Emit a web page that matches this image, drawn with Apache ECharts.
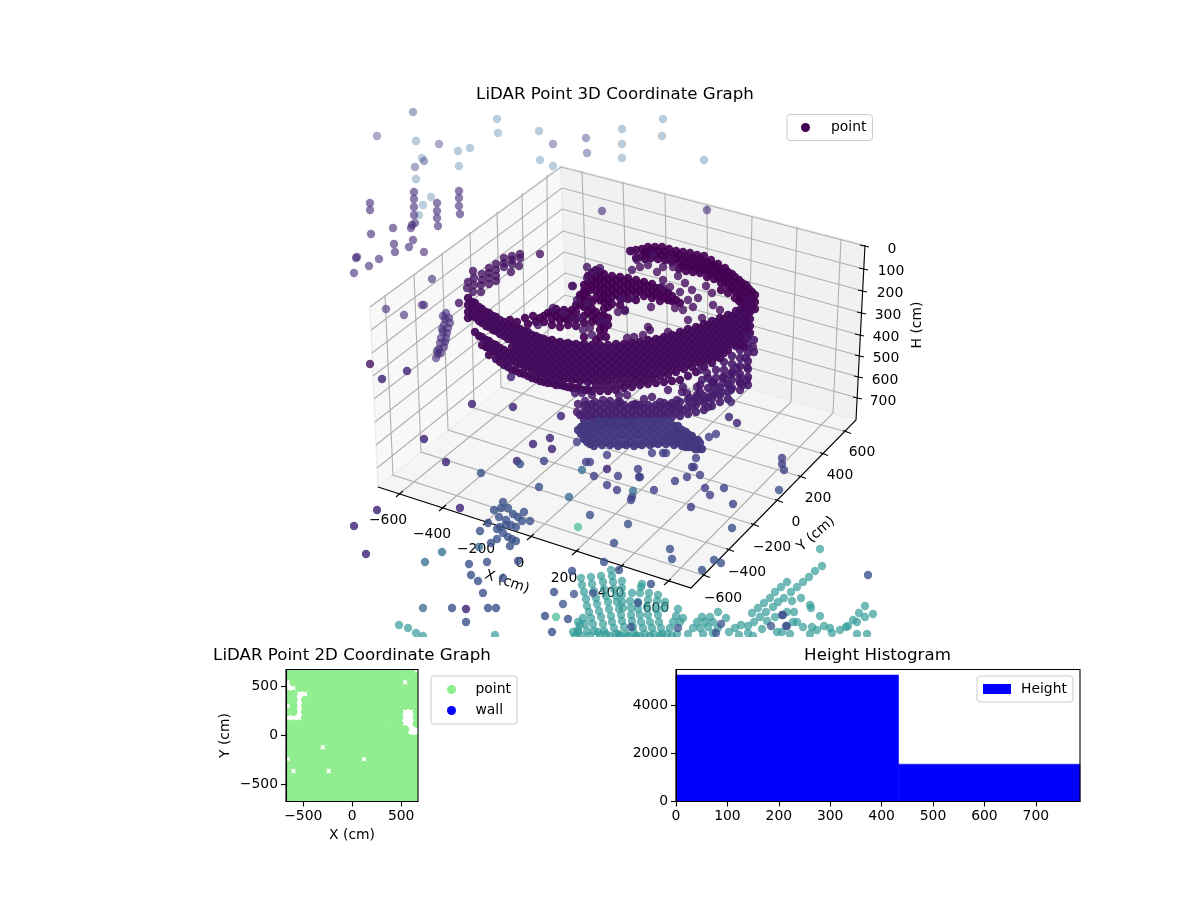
<!DOCTYPE html>
<html><head><meta charset="utf-8">
<script src="https://cdn.jsdelivr.net/npm/echarts@6/dist/echarts.min.js"></script>
<style>html,body{margin:0;background:#fff}#c{width:1200px;height:900px}</style></head>
<body><div id="c"></div>
<script>
const faintBlue=[[497,119],[498,133],[416,141],[458,151],[470,148],[539,131],[622,129],[622,144],[622,158],[540,160],[422,158],[459,166],[416,179],[431,197],[423,205],[419,215],[663,119],[662,136],[704,160],[553,166]];
const faintLavender=[[413,112],[377,136],[439,144],[553,144],[586,138],[587,153],[424,161],[415,167]];
const upperPurple=[[414,192],[414,199],[414,207],[414,215],[415,223],[412,225],[411,228],[459,191],[459,198],[459,206],[460,214],[437,203],[437,211],[437,218],[438,226],[370,203],[370,210],[393,228],[371,234],[413,240],[394,244],[395,252],[409,247],[424,252],[357,257],[356,258],[379,259],[369,266],[354,273],[432,279],[386,309],[404,315],[422,305],[424,305],[602,211],[707,210],
[446,313],[449,318],[445,319],[450,323],[444,325],[448,328],[443,332],[447,333],[441,338],[446,338],[440,343],[445,342],[439,349],[444,347],[438,354],[441,353],[436,358],[437,351],[443,316],[442,329]];
const ringFront=[
[468,298,305,312,318],[475,303,310,317,332],[482,309,316,323,337,345],[489,313,320,327,341,348,355],[496,317,324,331,345,352,359],
[504,322,329,336,350,357,365],[512,326,333,340,347,354,361,370],[520,329,336,343,350,357,364,373],[528,332,339,346,353,360,367,376],[536,336,343,350,357,364,371,379],
[544,339,346,353,360,367,374,382],[552,340,347,354,361,368,375,383],[560,342,349,356,363,370,377,385],[568,343,350,357,364,371,378,387],[576,344,351,358,365,372,379,388],
[584,344,351,358,365,372,379,390],[592,345,352,359,366,373,380,391],[600,345,352,359,366,373,380,391],[608,345,352,359,366,373,380,391],[616,344,351,358,365,372,379,390],
[624,344,351,358,365,372,379,388],[632,343,350,357,364,371,378,387],[640,342,349,356,363,370,377,385],[648,340,347,354,361,368,375,384],[656,339,346,353,360,367,374,383],
[664,337,344,351,358,365,372,382],[672,335,342,349,356,363,370,381],[680,332,339,346,353,360,367,380],[688,329,336,343,350,357,364,376],[696,327,334,341,348,355,362,372],
[704,324,331,338,345,352,359,367],[712,321,328,335,342,349,356,363],[720,318,325,332,339,346,353,358],[728,315,322,329,336,343,350],[736,311,318,325,332,339,346],[744,305,312,319,326,333,340,347],[750,298,305,312,319,326,333]];
const ringFrontFill=[
[472,302,309,316],[479,307,314,321,336],[486,312,319,326,340,347],[493,316,323,330,344,351],[500,320,327,334,348,355,362],
[508,325,332,339,353,360,367],[516,328,335,342,349,356,363,371],[524,331,338,345,352,359,366,374],[532,335,342,349,356,363,370,378],[540,338,345,352,359,366,373,381],
[548,341,348,355,362,369,376,383],[556,343,350,357,364,371,378,385],[564,344,351,358,365,372,379,386],[572,345,352,359,366,373,380,388],[580,346,353,360,367,374,381,389],
[588,347,354,361,368,375,382,390],[596,348,355,362,369,376,385],[604,348,355,362,369,376,385],[612,348,355,362,369,376,385],[620,347,354,361,368,375,384],
[628,346,353,360,367,374,383],[636,345,352,359,366,373,381],[644,344,351,358,365,372,380],[652,342,349,356,363,370,378],[660,340,347,354,361,368,376],
[668,339,346,353,360,367,375],[676,336,343,350,357,364,372],[684,333,340,347,354,361,369],[692,331,338,345,352,359,367],[700,328,335,342,349,356,363],
[708,325,332,339,346,353,360],[716,322,329,336,343,350,357],[724,319,326,333,340,347,353],[732,316,323,330,337,344],[740,310,317,324,331,338,345],[747,302,309,316,323,330,337]];
const ringBackArc=[
[588,276,283],[596,270,277,284,291],[604,274,281,288,295,302,309],[612,276,283,290],[620,277,284,291],[628,278,285,292],[636,280,287],[644,282,289],[652,284,291],[660,288,295],[668,293],
[580,298,305],[588,298,305,312],[596,312,319],[604,316,323,330],[572,310,317],[564,310,318],[556,309,316],[548,313],[540,318],[525,318],[533,316],[510,320],[517,322],
[631,251],[642,249,256],[648,247,254],[655,247,254],[662,247,255],[669,249,257],[676,251,258],[683,252,259,266],[690,253,260,267],[697,255,262,269],[704,256,263,270],[711,260,267,274],[718,264,271,278],[725,268,275,282],[732,274,281,288],[739,280,287,294,301],[746,285,292,299,306],[752,292,299,306]];
const ringBackFill=[[592,273,280,287],[600,272,279,286,293,300],[608,279,286,293,300,307],[616,280,287,294],[624,281,288,295],[632,283,290],[640,284,291],[648,286,293],[656,288,295],[664,291,298],[672,296,301],[584,300,307],[592,302,309,316],[600,316,323,330],[608,318,325],[576,305,312],[568,313,320],[560,313,320],[552,312,319],[544,316],[580,295],[586,292],
[584,285,291],[590,290],[596,298],[612,297,304],[620,298,305],[628,299],[636,294,300],[644,296],[652,298],[660,301],[668,300],[676,300],[680,303],
[576,319,326],[584,316,323,337],[592,322],[568,325],[560,327],[552,325],[544,322],[536,322],[528,324],[600,337],[606,337],[596,340],
[636,250,258],[645,252,259],[651,250,258],[658,251,259],[665,252,260],[672,254,262],[679,255,262,269],[686,257,264,271],[693,258,265,272],[700,259,266,273],[707,263,270,277],[714,265,272,279],[721,269,276,283,290],[728,272,279,286,293],[735,277,284,291,298],[742,283,290,297,304],[749,289,296,303,310],[755,295,302,309]];
const ringUpperLeft=[[520,254],[520,258],[519,266],[512,256],[512,260],[512,264],[511,272],[504,258],[504,263],[504,267],[496,264],[496,270],[496,276],[496,281],[489,268],[489,273],[489,278],[489,284],[482,274],[482,280],[481,285],[481,292],[473,271],[474,278],[474,285],[473,292],[468,282],[467,288],[540,254],[459,303],[370,364],
[587,278],[593,272],[600,268],[587,267],[572,286],[632,270],[630,251],[573,286],[538,325],[553,308],[563,313],[573,320],[580,318],[590,328],[592,335],[600,320],[607,322],[622,298],[618,312],[625,311],[577,300],[587,303],[583,330]];
const ringInner=[[637,260],[640,267],[648,265],[653,255],[663,267],[657,272],[670,260],[673,267],[663,280],[670,287],[662,287],[685,283],[680,292],[692,290],[698,298],[688,300],[693,307],[675,308],[683,310],[688,320],[702,318],[713,305],[720,310],[651,307],[632,298],[622,299],[625,310],[648,327],[650,330],[668,332],[634,337],[627,338],[643,335],[712,293],[706,286],[678,276]];
const ringLowerRight=[[747,380],[683,387],[697,387],[687,393],[713,383],[723,383],[740,383],[733,373],[747,367],[753,347],[748,337],[700,370],[707,373],[697,395],[683,410],[705,400],[695,402],[677,400],[660,402],[637,405],[620,402],[652,397],[668,390],[682,392],[723,377],[730,375],[740,378],[743,385],[712,382],[702,380],[731,390],[722,392],[714,395],[708,407],[692,407],[737,368],[745,358],[728,384],[690,398],
[575,393],[582,393],[592,395],[578,404],[585,401],[595,402],[577,412],[587,405],[603,400],[610,401],[619,395],[627,395],[618,402],[635,404],[644,399],[672,406]];
const ringRightLobe=[[716,370,378,386,393],[724,362,370,378],[732,356,364,372,380,388],[740,350,358,366,374,382,390],[748,345,353,361,369,377,385],[754,340,352],[708,378,388,398],[700,385,392,400]];
const ringLower=[[584,406,413,420],[592,404,411,418,425],[600,404,411,418,425],[608,404,411,418,424],[616,405,412,419,425],[624,405,412,419,424],[632,405,412,419,423],[640,405,412,419],[648,405,412,418],[656,405,412,418],[664,403,410,417],[672,403,410,417],[680,402,409,416],[688,400,407,414],[696,398,405,412],[704,396,403,410],[712,392,399,406],[720,388,395,402],[728,385,392,399],
[580,415],[588,409,416],[596,408,415,422],[604,408,415,422],[612,408,415,422],[620,408,415,422],[628,408,415,421],[636,408,415],[644,408,415],[652,408,415],[660,407,414],[668,406,413],[676,406,413]];
const baseColumns=[[578,430],[584,425,432,439],[590,423,430,437,444],[598,421,428,435,442],[606,421,428,435,442],[614,421,428,435,443],[622,421,428,435,444],[630,421,428,435,443],[638,421,428,435,444],[646,421,428,435,442],[654,421,428,435,443],[662,421,428,435,442],[670,421,428,435,442],[678,426,432,438,443],[686,432,438,444,447],[692,436,442,446],[698,440,449],[702,449],
[581,427,434],[587,428,435,442],[594,425,432,439,446],[602,424,431,438,445],[610,424,431,438,445],[618,424,431,438,446],[626,424,431,438,445],[634,424,431,438,446],[642,424,431,438,445],[650,424,431,438,445],[658,424,431,438,444],[666,424,431,438,444],[674,426,433,439,445],[682,430,436,441,446],[689,435,441,447],[695,441,449],[700,443]];
const floorPurple=[[382,379],[407,371],[511,377],[472,404],[513,407],[561,416],[424,439],[446,462],[533,444],[550,438],[552,449],[517,461],[460,508],[377,510],[354,526],[366,554],[607,469],[466,609],[731,402],[729,417],[737,423]];
const floorIndigo=[[544,461],[577,442],[586,462],[590,462],[594,476],[607,455],[618,476],[607,485],[617,490],[632,497],[631,500],[638,469],[639,477],[640,477],[652,453],[663,453],[666,453],[709,437],[716,434],[696,458],[692,467],[694,467],[700,475],[687,477],[675,481],[705,488],[724,488],[710,495],[654,490],[691,507],[733,504],[782,458],[782,464],[784,470]];
const floorBlue=[[520,464],[481,473],[539,487],[590,515],[628,524],[614,543],[604,562],[572,571],[619,570],[779,490],[732,528],[670,549],[672,559],[714,560],[721,563],[702,570],[651,584],[868,575],
[503,502],[494,510],[501,508],[508,508],[499,517],[513,514],[518,517],[524,512],[522,521],[530,521],[506,520],[506,525],[511,525],[516,527],[488,523],[480,531],[500,527],[497,529],[503,533],[508,537],[512,539],[516,541],[510,546],[497,539],[491,543],
[469,564],[487,562],[518,561],[471,575],[478,581],[503,578],[483,593],[554,592],[452,608],[488,608],[496,608],[466,622],[545,616],[568,619],[552,632]];
const floorSteel=[[582,470],[633,491],[569,497],[479,547],[442,552],[425,562],[423,608]];
const floorMint=[[578,527],[556,617]];
const bottomTeal=[[399,625],[408,628],[416,633],[423,636],[495,635],
[581,578],[582,585],[584,592],[586,599],[587,606],[589,612],[583,618],[591,618],[585,624],[593,624],[587,631],[594,631],
[591,577],[592,584],[594,591],[596,598],[597,604],[599,611],[601,617],[603,624],[604,631],
[601,576],[603,582],[604,589],[606,596],[608,602],[609,609],[611,616],[612,622],[614,628],[616,634],
[611,570],[612,576],[613,582],[614,589],[616,596],[617,602],[619,609],[621,615],[622,621],[624,627],[626,634],
[622,581],[622,588],[622,595],[622,602],[623,608],[631,615],[632,621],[633,627],[634,633],
[642,584],[641,587],[640,593],[632,593],[630,601],[631,608],[638,602],[638,609],[640,615],[641,622],[643,628],[645,634],
[649,593],[648,600],[647,607],[648,615],[650,622],[652,628],[654,634],
[658,595],[657,601],[656,609],[658,615],[659,622],[661,628],[665,602],[664,608],[573,632],[578,632],[575,636],
[578,622],[578,630],[580,625],[582,636],[590,636],[598,632],[600,636],[606,634],[610,636],[619,634],[620,636],[628,636],[636,636],[640,636],[650,636],[660,636],[662,634],[672,636],
[678,609],[676,616],[683,618],[673,622],[680,622],[670,628],[667,634],[677,634],
[718,612],[710,617],[702,617],[713,622],[705,622],[697,622],[708,627],[700,628],[693,628],[726,618],[718,628],[688,634],[703,634],[713,633],
[729,632],[735,628],[741,625],[748,626],[754,622],[752,613],[758,608],[764,603],[770,598],[775,592],[781,587],[787,582],
[797,587],[803,582],[809,577],[815,571],[822,566],[820,549],[791,592],[784,598],[778,602],[773,607],[766,612],[760,617],
[792,601],[801,598],[810,605],[811,608],[794,612],[787,612],[775,617],[767,621],[793,622],[797,622],[782,632],[820,616],[817,630],[824,626],[810,634],[832,633],[840,630],[848,626],[857,622],[865,617],[859,613],[865,606],[873,614],[857,634],[867,634],
[812,627],[803,627],[777,632],[762,629],[748,633],[753,636],[739,635],[790,634],[830,628],[846,627],[853,620]];
const bottomBlue=[[574,594],[563,604],[593,593],[638,603],[631,627],[678,628],[716,633],[721,624],[782,615],[771,626],[786,626],[783,615],[787,626]];

// ---- 3D frame
const leftWall=[[370,307],[561,166],[567,335],[378,487]];
const rightWall=[[561,166],[865,245],[856,420],[567,335]];
const floorPane=[[378,487],[567,335],[856,420],[691,588]];
const xTicksFront=[[399,494],[442,508],[486,522],[530,537],[575,552],[620,567],[667,582]];
const xTicksFar=[[588,341],[628,353],[668,365],[708,377],[748,389],[791,402],[833,413]];
const xTicksTop=[[582,171],[623,182],[665,193],[707,204],[752,216],[797,227],[841,239]];
const yTicksFront=[[706,576],[730,550],[755,525],[779,501],[802,477],[824,454],[847,432]];
const yTicksFar=[[393,475],[421,452],[448,430],[474,408],[501,387],[525,367],[548,349]];
const yTicksTop=[[385,295],[414,274],[442,253],[470,232],[497,212],[522,193],[547,175]];
const hTicksLeft=[[370,307],[371,330],[372,353],[373,376],[374,399],[375,422],[376,445],[377,468]];
const hTicksBack=[[561,167],[562,188],[562,209],[563,231],[564,252],[565,273],[565,295],[566,316]];
const hTicksRight=[[865,246],[864,269],[863,291],[862,313],[860,335],[860,356],[859,377],[858,398]];
const axisEdge=[[378,487],[691,588],[856,420],[865,245]];

const xTickLabels=['\u2212600','\u2212400','\u2212200','0','200','400','600'];
const yTickLabels=['\u2212600','\u2212400','\u2212200','0','200','400','600'];
const hTickLabels=['0','100','200','300','400','500','600','700'];
const xLabelSpots=[[388,520],[432,534],[476,549],[520,563],[564,578],[611,593],[656,608]];
const yLabelSpots=[[723,598],[747,572],[772,547],[796,522],[818,498],[840,475],[862,452]];
const hLabelSpots=[[892,249],[891,271],[890,293],[888,315],[886,337],[886,358],[885,380],[883,401]];

// ---- 2D panel: rows of [y, x, x, ...] in cm
const pointRows=[
[660,-660,-600,-540,-480,-420,-360,-300,-240,-180,-120,-60,0,60,120,180,240,300,360,420,480,540,600],
[600,-660,-600,-540,-480,-420,-360,-300,-240,-180,-120,-60,0,60,120,180,240,300,360,420,480,540,600,660],
[540,-600,-540,-480,-420,-360,-300,-240,-180,-120,-60,0,60,120,180,240,300,360,420,480,600,660],
[480,-540,-480,-420,-360,-300,-240,-180,-120,-60,0,60,120,180,240,300,360,420,480,540,600,660],
[420,-660,-600,-420,-360,-300,-240,-180,-120,-60,0,60,120,180,240,300,360,420,480,540,600,660],
[360,-660,-600,-480,-420,-360,-300,-240,-180,-120,-60,0,60,120,180,240,300,360,420,480,540,600,660],
[300,-600,-480,-420,-360,-300,-240,-180,-120,-60,0,60,120,180,240,300,360,420,480,540,600,660],
[240,-660,-600,-480,-420,-360,-300,-240,-180,-120,-60,0,60,120,180,240,300,360,420,480,660],
[180,-480,-420,-360,-300,-240,-180,-120,-60,0,60,120,180,240,300,360,420,480,660],
[120,-660,-600,-540,-480,-420,-360,-300,-240,-180,-120,-60,0,60,120,180,240,300,360,420,480,660],
[60,-660,-600,-540,-480,-420,-360,-300,-240,-180,-120,-60,0,60,120,180,240,300,360,420,480,540],
[0,-660,-600,-540,-480,-420,-360,-300,-240,-180,-120,-60,0,60,120,180,240,300,360,420,480,540],
[-30,600,660],
[-60,-660,-600,-540,-480,-420,-360,-300,-240,-180,-120,-60,0,60,120,180,240,300,360,420,480,540,600,660],
[-120,-660,-600,-540,-480,-420,-360,-240,-180,-120,-60,0,60,120,180,240,300,360,420,480,540,600,660],
[-180,-660,-600,-540,-480,-420,-360,-300,-240,-180,-120,-60,0,60,120,180,240,300,360,420,480,540,600,660],
[-240,-600,-540,-480,-420,-360,-300,-240,-180,-120,-60,0,60,180,240,300,360,420,480,540,600,660],
[-300,-660,-600,-540,-480,-420,-360,-300,-240,-180,-120,-60,0,60,120,180,240,300,360,420,480,540,600,660],
[-360,-660,-540,-480,-420,-360,-300,-180,-120,-60,0,60,120,180,240,300,360,420,480,540,600,660],
[-420,-660,-600,-540,-480,-420,-360,-300,-240,-180,-120,-60,0,60,120,180,240,300,360,420,480,540,600,660],
[-480,-660,-600,-540,-480,-420,-360,-300,-240,-180,-120,-60,0,60,120,180,240,300,360,420,480,540,600,660],
[-540,-660,-600,-540,-480,-420,-360,-300,-240,-180,-120,-60,0,60,120,180,240,300,360,420,480,540,600,660],
[-600,-660,-600,-540,-480,-420,-360,-300,-240,-180,-120,-60,0,60,120,180,240,300,360,420,480,540,600,660],
[-660,-660,-600,-540,-480,-420,-360,-300,-240,-180,-120,-60,0,60,120,180,240,300,360,420,480,540,600,660]];
const wallPoints=[];
const xyTicks=[-500,0,500];

// ---- Histogram
const heightBinEdges=[0,433,786];
const heightCounts=[5262,1554];
const histXTicks=[0,100,200,300,400,500,600,700];
const histYTicks=[0,2000,4000];

const FONT='"DejaVu Sans"';
const columns=c=>c.flatMap(([x,...ys])=>ys.map(y=>[x,y]));
// circles go through a custom series so that they are really cut at the edge of their plot area
const dots=(name,data,axis,r,color,opacity,z)=>({type:'custom',name,data,xAxisIndex:axis,yAxisIndex:axis,clip:true,silent:true,z,
  encode:{x:0,y:1},itemStyle:{color,opacity},
  renderItem:(p,api)=>{const c=api.coord([api.value(0),api.value(1)]);
    return {type:'circle',shape:{cx:c[0],cy:c[1],r},style:{fill:color,opacity}};}});
const cloud=(name,data,color,opacity)=>dots(name,data,0,4.2,color,opacity,3);
function frame(shapes){
  return {type:'custom',xAxisIndex:0,yAxisIndex:0,silent:true,z:1,clip:false,data:shapes.map((s,i)=>[i,0]),
    renderItem:(p,api)=>{const s=shapes[p.dataIndex];const pts=s.pts.map(q=>api.coord(q));
      return s.fill?{type:'polygon',shape:{points:pts},style:{fill:s.fill,stroke:s.stroke,lineWidth:s.w}}
                   :{type:'polyline',shape:{points:pts},style:{fill:null,stroke:s.stroke,lineWidth:s.w}};}};
}
function texts(items){
  return {type:'custom',xAxisIndex:0,yAxisIndex:0,silent:true,z:2,clip:false,data:items.map((s,i)=>[i,0]),
    renderItem:(p,api)=>{const s=items[p.dataIndex];const c=api.coord(s.at);
      return {type:'text',x:c[0],y:c[1],rotation:(s.rot||0)*Math.PI/180,
        style:{text:s.text,align:'center',verticalAlign:'middle',fontFamily:FONT,fontSize:13.9,fill:'#000'}};}};
}
const GRIDC='#b0b0b0';
const shapes=[
 {pts:leftWall,fill:'#f8f8f8',stroke:'#ececec',w:1.5},
 {pts:rightWall,fill:'#f1f1f1',stroke:'#ececec',w:1.5},
 {pts:floorPane,fill:'#f5f5f5',stroke:'#ececec',w:1},
];
xTicksFront.forEach((q,i)=>shapes.push({pts:[q,xTicksFar[i],xTicksTop[i]],stroke:GRIDC,w:1.1}));
yTicksFront.forEach((q,i)=>shapes.push({pts:[q,yTicksFar[i],yTicksTop[i]],stroke:GRIDC,w:1.1}));
hTicksLeft.forEach((q,i)=>shapes.push({pts:[q,hTicksBack[i],hTicksRight[i]],stroke:GRIDC,w:1.1}));
shapes.push({pts:axisEdge,stroke:'#000',w:1.1});
xTicksFront.forEach(q=>shapes.push({pts:[[q[0]+4,q[1]-3],[q[0]-3,q[1]+3]],stroke:'#000',w:1.1}));
yTicksFront.forEach(q=>shapes.push({pts:[[q[0]-4,q[1]-1.5],[q[0]+4,q[1]+1.5]],stroke:'#000',w:1.1}));
hTicksRight.forEach(q=>shapes.push({pts:[[q[0]-5,q[1]-1],[q[0]+4,q[1]+1]],stroke:'#000',w:1.1}));
const tickTexts=[
 ...xTickLabels.map((text,i)=>({text,at:xLabelSpots[i]})),
 ...yTickLabels.map((text,i)=>({text,at:yLabelSpots[i]})),
 ...hTickLabels.map((text,i)=>({text,at:hLabelSpots[i]})),
 {text:'X (cm)',at:[507,582],rot:-19},{text:'Y (cm)',at:[816,534],rot:41},{text:'H (cm)',at:[917,325],rot:90}];

const axisCommon={axisLine:{onZero:false,lineStyle:{color:'#000',width:1.1}},splitLine:{show:false},
  axisTick:{length:5,lineStyle:{color:'#000',width:1.1}},
  axisLabel:{color:'#000',fontFamily:FONT,fontSize:13.9,margin:8,hideOverlap:false,formatter:v=>String(v).replace('-','\u2212')},
  nameTextStyle:{color:'#000',fontFamily:FONT,fontSize:13.9}};
const customAxis=(ticks,extra)=>Object.assign({type:'value'},axisCommon,extra,{
  axisTick:Object.assign({},axisCommon.axisTick,{customValues:ticks}),
  axisLabel:Object.assign({},axisCommon.axisLabel,{customValues:ticks})});
const titleStyle={color:'#000',fontFamily:FONT,fontSize:16.67,fontWeight:'normal'};
const legendBase={orient:'vertical',selectedMode:false,backgroundColor:'rgba(255,255,255,0.8)',borderColor:'#ccc',borderWidth:1,borderRadius:3};
const legendText=pad=>({color:'#000',fontFamily:FONT,fontSize:13.9,padding:[0,0,0,pad]});

const option={animation:false,backgroundColor:'#fff',
 title:[
  {text:'LiDAR Point 3D Coordinate Graph',left:615,top:86,textAlign:'center',textStyle:titleStyle,padding:0},
  {text:'LiDAR Point 2D Coordinate Graph',left:352,top:647,textAlign:'center',textStyle:titleStyle,padding:0},
  {text:'Height Histogram',left:877.5,top:647,textAlign:'center',textStyle:titleStyle,padding:0}],
 grid:[
  {left:0,top:0,width:1200,height:637,show:false},
  {left:286,top:669.5,width:132,height:132,show:true,borderColor:'#000',borderWidth:1.1,backgroundColor:'transparent'},
  {left:676,top:669.5,width:404,height:132,show:true,borderColor:'#000',borderWidth:1.1,backgroundColor:'transparent'}],
 xAxis:[
  {type:'value',gridIndex:0,min:0,max:1200,show:false},
  customAxis(xyTicks,{gridIndex:1,min:-676,max:672,name:'X (cm)',nameLocation:'middle',nameGap:27}),
  customAxis(histXTicks,{gridIndex:2,min:0,max:786})],
 yAxis:[
  {type:'value',gridIndex:0,min:0,max:637,inverse:true,show:false},
  customAxis(xyTicks,{gridIndex:1,min:-670,max:669,name:'Y (cm)',nameLocation:'middle',nameGap:54}),
  customAxis(histYTicks,{gridIndex:2,min:0,max:5491})],
 legend:[
  Object.assign({},legendBase,{left:787,top:114.5,padding:[6,6,6,14],itemWidth:9,itemHeight:9,textStyle:legendText(16),data:[{name:'3D point',icon:'circle',itemStyle:{opacity:1}}],formatter:()=>'point'}),
  Object.assign({},legendBase,{left:431,top:676,padding:[6.5,6,6.5,16],itemWidth:9,itemHeight:9,itemGap:7,textStyle:legendText(14.5),data:[{name:'point',icon:'circle'},{name:'wall',icon:'circle'}]}),
  Object.assign({},legendBase,{left:977,top:676,padding:[6,6,6,6],itemWidth:28,itemHeight:10,textStyle:legendText(5),data:[{name:'Height',icon:'rect'}]})],
 series:[
  frame(shapes),texts(tickTexts),
  cloud('faintBlue',faintBlue,'#6d97b5',0.48),
  cloud('faintLavender',faintLavender,'#47508f',0.48),
  cloud('upperPurple',upperPurple,'#472d7b',0.62),
  cloud('3D point',columns(ringBackArc),'#440154',0.92),
  cloud('ringBackFill',columns(ringBackFill),'#440154',0.92),
  cloud('ringInner',ringInner,'#470f60',0.8),
  cloud('ringUpperLeft',ringUpperLeft,'#471463',0.8),
  cloud('ringRightLobe',columns(ringRightLobe),'#46146a',0.88),
  cloud('ringFront',columns(ringFront),'#440a5a',0.94),
  cloud('ringFrontFill',columns(ringFrontFill),'#440a5a',0.94),
  cloud('ringLowerRight',ringLowerRight,'#46186a',0.85),
  cloud('ringLower',columns(ringLower),'#46206f',0.92),
  cloud('base',columns(baseColumns),'#43387f',0.95),
  cloud('floorPurple',floorPurple,'#472c7a',0.85),
  cloud('floorIndigo',floorIndigo,'#424086',0.8),
  cloud('floorBlue',floorBlue,'#3b528b',0.8),
  cloud('floorSteel',floorSteel,'#31688e',0.75),
  cloud('bottomTeal',bottomTeal,'#2f9a96',0.68),
  cloud('bottomBlue',bottomBlue,'#3b528b',0.75),
  cloud('floorMint',floorMint,'#45b98f',0.7),
  dots('point',pointRows.flatMap(([y,...xs])=>xs.map(x=>[x,y])),1,4.2,'#90ee90',1,-1),
  dots('wall',wallPoints,1,4.2,'#0000ff',1,-1),
  {type:'custom',name:'Height',xAxisIndex:2,yAxisIndex:2,z:-1,silent:true,itemStyle:{color:'#0000ff'},encode:{x:[0,1],y:2},
   data:heightCounts.map((c,i)=>[heightBinEdges[i],heightBinEdges[i+1],c]),
   renderItem:(p,api)=>{const a=api.coord([api.value(0),api.value(2)]),b=api.coord([api.value(1),0]);
     return {type:'rect',shape:{x:a[0],y:a[1],width:b[0]-a[0],height:b[1]-a[1]},style:{fill:'#0000ff',stroke:'#0000ff',lineWidth:0.5}};}}
 ]};
echarts.init(document.getElementById('c'),null,{renderer:'canvas'}).setOption(option);
</script></body></html>
